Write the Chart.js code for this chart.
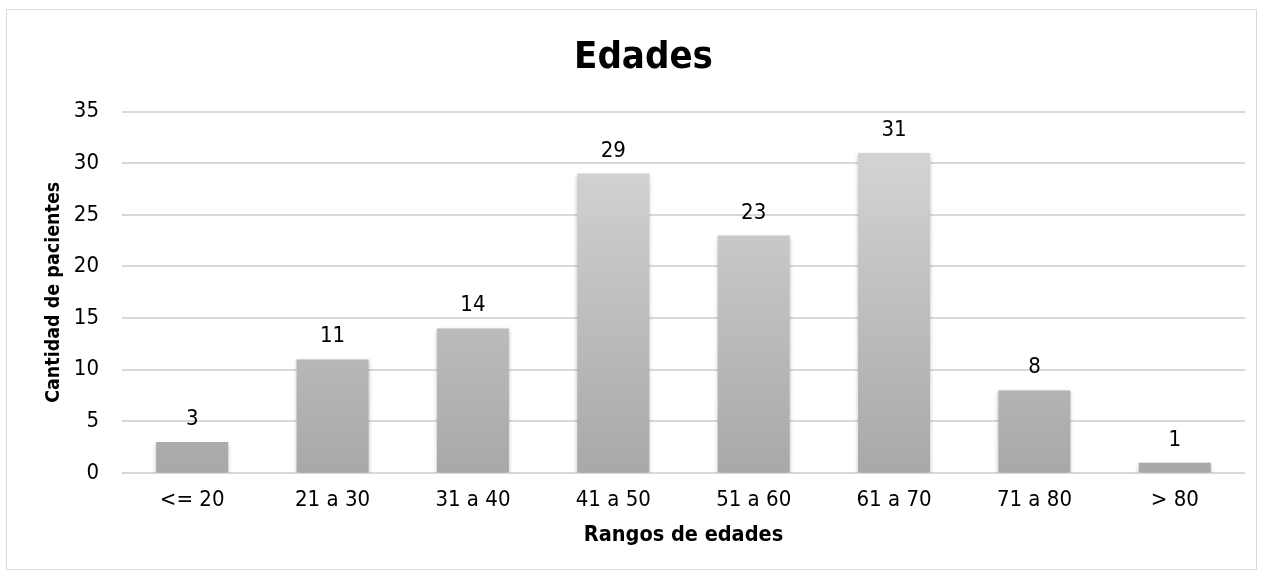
<!DOCTYPE html>
<html>
<head>
<meta charset="utf-8">
<script src="https://cdn.jsdelivr.net/npm/chart.js@4.4.1/dist/chart.umd.min.js"></script>
<style>
  html, body { margin: 0; padding: 0; background: #ffffff; }
  #frame {
    position: absolute; left: 6px; top: 9px; width: 1251px; height: 561px;
    border: 1px solid #d9d9d9; box-sizing: border-box; background: #fff;
  }
  #wrap { position: absolute; left: 0; top: 0; width: 1249px; height: 559px; }
</style>
</head>
<body>
<div id="frame"><div id="wrap"><canvas id="c"></canvas></div></div>
<script>
const categories = ['<= 20', '21 a 30', '31 a 40', '41 a 50', '51 a 60', '61 a 70', '71 a 80', '> 80'];
const patients = [3, 11, 14, 29, 23, 31, 8, 1];
const yTicks = [0, 5, 10, 15, 20, 25, 30, 35];

const FONT = "'DejaVu Sans Condensed', 'DejaVu Sans', sans-serif";

// Vertical grey gradient for each bar, from the bar top to the baseline
function barGradient(ctx) {
  const chart = ctx.chart;
  const area = chart.chartArea;
  if (!area) return '#bfbfbf';
  const el = ctx.element;
  const top = el && isFinite(el.y) ? el.y : area.top;
  const bottom = el && isFinite(el.base) ? el.base : area.bottom;
  const g = chart.ctx.createLinearGradient(0, top, 0, Math.max(bottom, top + 1));
  g.addColorStop(0, '#d9d9d9');
  g.addColorStop(1, '#a8a8a8');
  return g;
}

// Value labels drawn above each bar
const valueLabels = {
  id: 'valueLabels',
  afterDatasetsDraw(chart) {
    const { ctx } = chart;
    const meta = chart.getDatasetMeta(0);
    ctx.save();
    ctx.font = '22px ' + FONT;
    ctx.fillStyle = '#000';
    ctx.textAlign = 'center';
    ctx.textBaseline = 'alphabetic';
    meta.data.forEach((bar, i) => {
      ctx.fillText(String(chart.data.datasets[0].data[i]), bar.x, bar.y - 17);
    });
    ctx.restore();
  }
};

// Soft shadow under bars
const barShadow = {
  id: 'barShadow',
  beforeDatasetsDraw(chart) {
    const { ctx } = chart;
    ctx.save();
    ctx.shadowColor = 'rgba(0,0,0,0.25)';
    ctx.shadowBlur = 4;
    ctx.shadowOffsetY = 2;
  },
  afterDatasetsDraw(chart) {
    chart.ctx.restore();
  }
};

new Chart(document.getElementById('c'), {
  type: 'bar',
  data: {
    labels: categories,
    datasets: [{
      data: patients,
      backgroundColor: barGradient,
      borderWidth: 0,
      categoryPercentage: 1.0,
      barPercentage: 0.513
    }]
  },
  options: {
    responsive: true,
    maintainAspectRatio: false,
    animation: false,
    layout: { padding: { left: 35, right: 11, top: 0, bottom: 11 } },
    plugins: {
      legend: { display: false },
      tooltip: { enabled: false },
      title: {
        display: true,
        text: 'Edades',
        color: '#000',
        font: { family: FONT, size: 38, weight: 'bold' },
        padding: { top: 25, bottom: 31 }
      }
    },
    scales: {
      x: {
        afterFit(axis) { axis.height = 85; },
        grid: { display: false, drawTicks: false },
        border: { display: false },
        ticks: { color: '#000', font: { family: FONT, size: 22 }, padding: 14 },
        title: {
          display: true, text: 'Rangos de edades', color: '#000',
          font: { family: FONT, size: 21.5, weight: 'bold' }, padding: { top: 12, bottom: 10 }
        }
      },
      y: {
        min: 0, max: 35,
        afterFit(axis) { axis.width = 80; },
        afterBuildTicks(axis) { axis.ticks = yTicks.map(v => ({ value: v })); },
        grid: { color: '#d9d9d9', lineWidth: 2, drawTicks: false },
        border: { display: false },
        ticks: { color: '#000', font: { family: FONT, size: 22 }, padding: 23 },
        title: {
          display: true, text: 'Cantidad de pacientes', color: '#000',
          font: { family: FONT, size: 19.5, weight: 'bold' }, padding: { top: 0, bottom: 12 }
        }
      }
    }
  },
  plugins: [barShadow, valueLabels]
});
</script>
</body>
</html>
